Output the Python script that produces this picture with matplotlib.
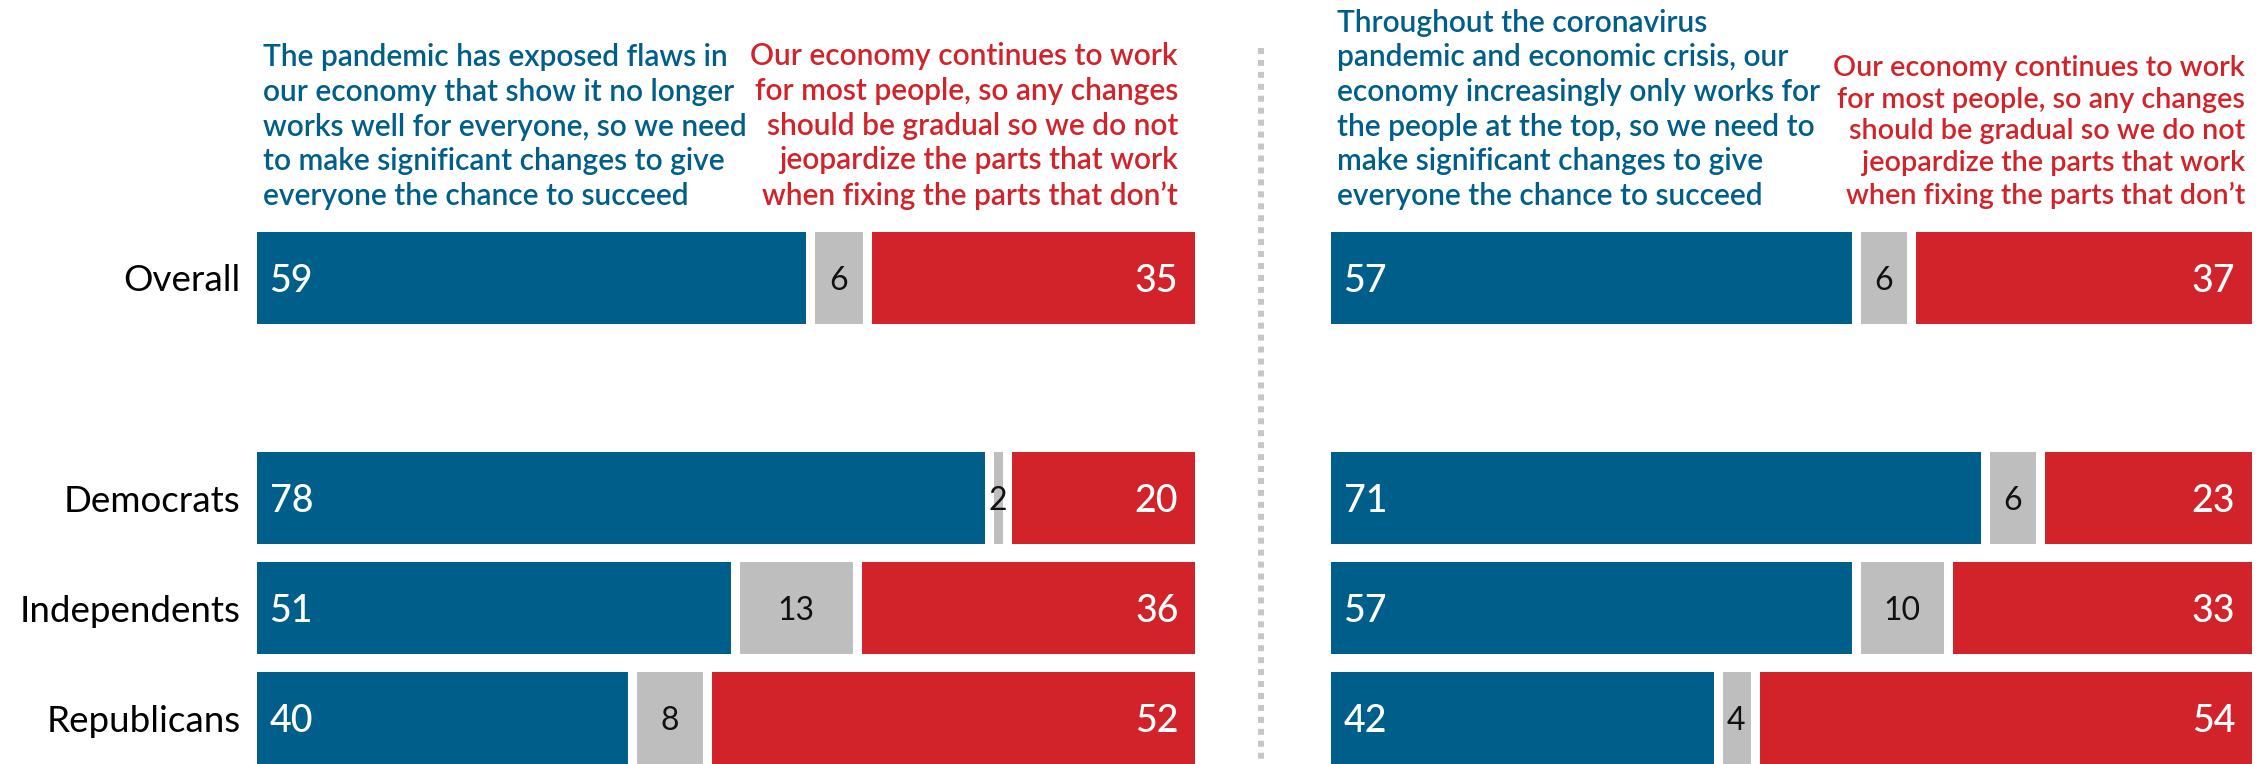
import matplotlib
matplotlib.use('Agg')
import matplotlib.pyplot as plt
from matplotlib.lines import Line2D

plt.rcParams['font.family'] = ['Lato', 'DejaVu Sans']

# data
categories = ['Overall', 'Democrats', 'Independents', 'Republicans']
left_change = [59, 78, 51, 40]
left_unsure = [6, 2, 13, 8]
left_keep = [35, 20, 36, 52]
right_change = [57, 71, 57, 42]
right_unsure = [6, 6, 10, 4]
right_keep = [37, 23, 33, 54]

left_change_text = ('The pandemic has exposed flaws in\n'
                    'our economy that show it no longer\n'
                    'works well for everyone, so we need\n'
                    'to make significant changes to give\n'
                    'everyone the chance to succeed')
right_change_text = ('Throughout the coronavirus\n'
                     'pandemic and economic crisis, our\n'
                     'economy increasingly only works for\n'
                     'the people at the top, so we need to\n'
                     'make significant changes to give\n'
                     'everyone the chance to succeed')
keep_text = ('Our economy continues to work\n'
             'for most people, so any changes\n'
             'should be gradual so we do not\n'
             'jeopardize the parts that work\n'
             'when fixing the parts that don\u2019t')

# layout
rows = [0, 2, 3, 4]
bar_h = 0.836
BLUE = '#005E8A'
RED = '#D2222A'
GRAY = '#BEBEBE'
W, H = 2264, 764


def px(x, y):
    return x / W, 1 - y / H


fig = plt.figure(figsize=(W / 100, H / 100), dpi=100)
ax_l = fig.add_axes([257 / W, 0, 938 / W, 532 / H])
ax_r = fig.add_axes([1331 / W, 0, 921 / W, 532 / H])


def draw_panel(ax, change, unsure, keep, labels):
    ax.barh(rows, change, height=bar_h, color=BLUE)
    ax.barh(rows, unsure, left=change, height=bar_h, color=GRAY)
    starts = [c + u for c, u in zip(change, unsure)]
    ax.barh(rows, keep, left=starts, height=bar_h, color=RED)
    # white gaps between segments
    for y, a, b in zip(rows, change, starts):
        ax.vlines([a, b], y - bar_h / 2 - 0.01, y + bar_h / 2 + 0.01, color='white', lw=6.5)
    for y, c, u, k in zip(rows, change, unsure, keep):
        ax.annotate(str(c), (0, y), xytext=(9, 0), textcoords='offset points',
                    color='white', fontsize=27, fontweight='medium',
                    ha='left', va='center_baseline')
        ax.annotate(str(u), (c + u / 2, y), color='#111111', fontsize=23,
                    ha='center', va='center_baseline')
        ax.annotate(str(k), (100, y), xytext=(-12, 0), textcoords='offset points',
                    color='white', fontsize=27, fontweight='medium',
                    ha='right', va='center_baseline')
    ax.set_xlim(0, 100)
    ax.set_ylim(4.418, -0.418)
    ax.set_yticks(rows)
    ax.set_yticklabels(labels if labels else [])
    ax.tick_params(axis='y', length=0, pad=12, labelsize=26.5)
    ax.set_xticks([])
    for s in ax.spines.values():
        s.set_visible(False)


draw_panel(ax_l, left_change, left_unsure, left_keep, categories)
draw_panel(ax_r, right_change, right_unsure, right_keep, None)

# column headers
hdr = dict(fontweight='semibold', va='bottom')
fig.text(*px(263, 210), left_change_text, color=BLUE, ha='left',
         fontsize=21.5, linespacing=1.29, **hdr)
fig.text(*px(1178, 210), keep_text, color=RED, ha='right', multialignment='right',
         fontsize=21.5, linespacing=1.29, **hdr)
fig.text(*px(1337, 210), right_change_text, color=BLUE, ha='left',
         fontsize=21.5, linespacing=1.29, **hdr)
fig.text(*px(2245, 209), keep_text, color=RED, ha='right', multialignment='right',
         fontsize=20.7, linespacing=1.265, **hdr)

# dotted divider between the two question wordings
fig.add_artist(Line2D([1261 / W, 1261 / W], [1 - 48 / H, 0], color='#C6C6C6',
                      lw=4.3, linestyle=(0, (1, 1)), transform=fig.transFigure))

fig.savefig('out.png', dpi=100)
